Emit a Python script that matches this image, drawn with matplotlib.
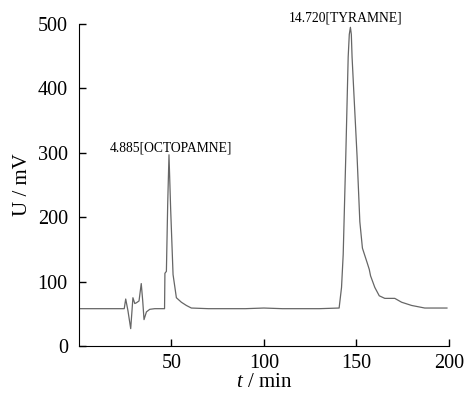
import numpy as np
import matplotlib.pyplot as plt

plt.rcParams['font.family'] = ['Liberation Serif', 'DejaVu Serif']
plt.rcParams['mathtext.fontset'] = 'custom'
plt.rcParams['mathtext.it'] = 'Liberation Serif:italic'
plt.rcParams['mathtext.rm'] = 'Liberation Serif'

# Chromatogram trace (time, signal)
t = [0, 24.5, 25.3, 26.5, 28.0, 29.2, 30.2, 31.0, 32.5, 33.7, 34.5, 35.2,
     36.5, 38.3, 41.0, 46.3, 46.5, 47.3, 48.0, 48.7, 49.6, 50.9, 52.7, 55.4,
     58.1, 60.8, 70.0, 90.0, 100.0, 110.0, 130.0, 140.7, 142.0, 142.9, 144.3,
     145.6, 146.2, 146.8, 147.3, 147.7, 148.6, 150.4, 151.9, 153.3, 155.9,
     157.0, 157.7, 160.0, 162.4, 165.4, 170.8, 174.5, 179.9, 187.0, 199.0]
signal = [58, 58, 73, 55, 27, 75, 66, 67, 70, 97, 70, 41,
          53, 57, 58, 58, 113, 116, 220, 297, 213, 111, 75, 68,
          63, 59, 58, 58, 59, 58, 58, 59, 91, 142, 295,
          449, 484, 495, 484, 449, 397, 295, 193, 152, 129,
          119, 109, 91, 78, 74, 74, 68, 63, 59, 59]

peak_labels = ['4.885[OCTOPAMNE]', '14.720[TYRAMNE]']
peak_t = [48.7, 146.8]
peak_y = [297, 495]
label_dx = [1.2, -2.5]
label_dy = [11, 14]

fig = plt.figure(figsize=(4.67, 3.95), dpi=100)
ax = fig.add_axes([0.169, 0.124, 0.792, 0.815])
ax.plot(t, signal, color='#666666', linewidth=0.9)

for lbl, px, py, dx, dy in zip(peak_labels, peak_t, peak_y, label_dx, label_dy):
    ax.text(px + dx, py + dy, lbl, ha='center', va='center', fontsize=9.8,
            clip_on=False)

ax.set_xlim(0, 200)
ax.set_ylim(0, 500)
ax.set_xticks([50, 100, 150, 200])
ax.set_yticks([0, 100, 200, 300, 400, 500])
ax.tick_params(direction='in', labelsize=14.5, length=5, width=1)
ax.tick_params(axis='x', pad=6)
ax.tick_params(axis='y', pad=8)
ax.spines['top'].set_visible(False)
ax.spines['right'].set_visible(False)
ax.set_xlabel('$t$ / min', fontsize=15, labelpad=0)
ax.set_ylabel('U / mV', fontsize=15, labelpad=4)

plt.savefig('out.png', dpi=100)
